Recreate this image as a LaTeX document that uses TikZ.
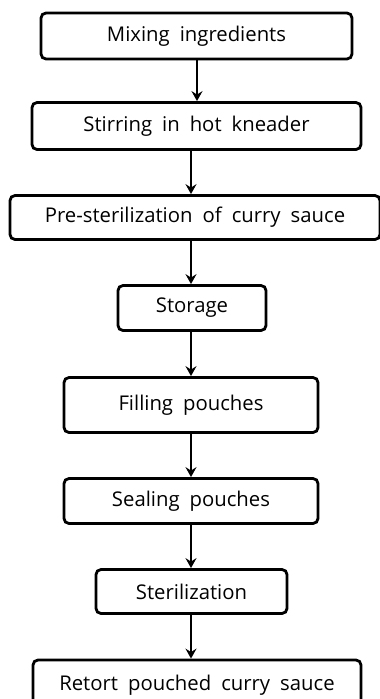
\documentclass[tikz,border=0pt]{standalone}
\usepackage{fontspec}
\setmainfont[WordSpace=1.9]{Open Sans}
\usetikzlibrary{arrows.meta}
\begin{document}
\begin{tikzpicture}[x=1pt,y=-1pt,
  stepbox/.style={draw=black,line width=2.8pt,rounded corners=5pt,inner sep=0pt,
    font=\fontsize{20.3}{24}\selectfont, anchor=center},
  arr/.style={line width=2pt,-{Stealth[length=10pt,width=11pt,inset=3.5pt]}}]
\useasboundingbox (0,0) rectangle (380,699);
\clip (0,0) rectangle (380,699);
\node[stepbox,minimum width=311pt,minimum height=46pt] (b1) at (196.5,36) {Mixing ingredients};
\node[stepbox,minimum width=329pt,minimum height=47pt] (b2) at (196.5,126) {Stirring in hot kneader};
\node[stepbox,minimum width=370pt,minimum height=44pt] (b3) at (195,217.5) {Pre-sterilization of curry sauce};
\node[stepbox,minimum width=148pt,minimum height=45pt] (b4) at (192,308) {Storage};
\node[stepbox,minimum width=254pt,minimum height=55pt] (b5) at (191,405) {Filling pouches};
\node[stepbox,minimum width=254pt,minimum height=45pt] (b6) at (191,501) {Sealing pouches};
\node[stepbox,minimum width=191pt,minimum height=44pt] (b7) at (191.5,591.5) {Sterilization};
\node[stepbox,minimum width=328pt,minimum height=50pt] (b8) at (197,685) {Retort pouched curry sauce};
\draw[arr] (b1.south -| 197,0) -- (b2.north -| 197,0);
\draw[arr] (b2.south -| 191,0) -- (b3.north -| 191,0);
\draw[arr] (b3.south -| 191,0) -- (b4.north -| 191,0);
\draw[arr] (b4.south -| 191,0) -- (b5.north -| 191,0);
\draw[arr] (b5.south -| 191,0) -- (b6.north -| 191,0);
\draw[arr] (b6.south -| 191,0) -- (b7.north -| 191,0);
\draw[arr] (b7.south -| 191,0) -- (b8.north -| 191,0);
\end{tikzpicture}
\end{document}
